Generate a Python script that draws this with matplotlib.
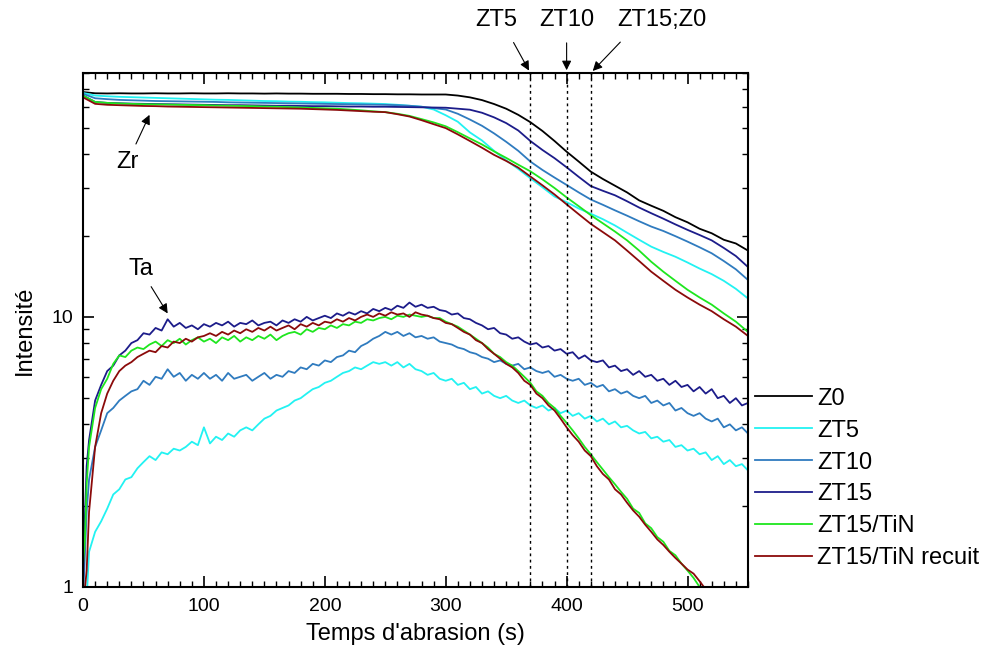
"""
Profils d'intensité Zr / Ta en fonction du temps d'abrasion
"""
import matplotlib
matplotlib.use('Agg')
import matplotlib.pyplot as plt
from matplotlib.ticker import MultipleLocator, LogLocator, NullFormatter, FuncFormatter

plt.rcParams['font.family'] = ['Liberation Sans', 'DejaVu Sans']

# temps (s)
t_zr = list(range(0, 551, 10))
t_ta = [0, 1.5, 3] + list(range(5, 551, 5))

# signal Zr (partie haute)
zr_z0 = [68.0, 67.3, 67.2, 67.3, 67.2, 67.2, 67.3, 67.2, 67.2, 67.3,
         67.2, 67.2, 67.3, 67.2, 67.2, 67.1, 67.2, 67.1, 67.1, 67.0,
         67.0, 67.0, 66.9, 66.9, 66.8, 66.8, 66.7, 66.7, 66.6, 66.6,
         66.6, 66.0, 65.0, 63.5, 61.4, 59.0, 56.0, 52.6, 48.8, 44.8,
         40.9, 37.6, 34.5, 32.4, 30.6, 28.9, 27.0, 25.8, 24.7, 23.4,
         22.4, 21.2, 20.4, 19.3, 18.7, 17.6]
zr_zt5 = [67.5, 66.0, 65.6, 65.3, 65.1, 64.9, 64.7, 64.5, 64.3, 64.1,
          63.9, 63.7, 63.6, 63.4, 63.2, 63.0, 62.9, 62.7, 62.6, 62.4,
          62.3, 62.1, 61.9, 61.8, 61.6, 61.4, 61.0, 60.5, 60.0, 58.6,
          55.8, 52.8, 48.2, 45.0, 41.2, 38.0, 35.3, 32.6, 30.2, 27.9,
          26.6, 25.2, 24.1, 23.0, 21.8, 20.5, 19.3, 18.2, 17.4, 16.7,
          15.9, 15.1, 14.4, 13.6, 12.7, 11.7]
zr_zt10 = [67.0, 64.5, 64.0, 63.6, 63.4, 63.2, 63.0, 62.9, 62.8, 62.7,
           62.6, 62.5, 62.3, 62.2, 62.1, 62.0, 61.9, 61.8, 61.7, 61.6,
           61.5, 61.4, 61.3, 61.2, 61.1, 61.0, 60.8, 60.5, 60.0, 59.3,
           58.6, 56.5, 53.8, 51.0, 47.8, 44.5, 41.2, 37.6, 35.0, 32.8,
           30.8, 28.9, 27.2, 26.0, 24.8, 23.7, 22.6, 21.6, 20.8, 19.9,
           19.0, 18.1, 17.2, 16.1, 15.0, 13.7]
zr_zt15 = [66.0, 62.5, 62.0, 61.8, 61.6, 61.5, 61.4, 61.3, 61.2, 61.1,
           61.0, 60.9, 60.8, 60.8, 60.7, 60.6, 60.5, 60.5, 60.4, 60.3,
           60.3, 60.2, 60.1, 60.1, 60.0, 60.0, 59.9, 59.8, 59.7, 59.6,
           59.5, 59.0, 58.5, 57.0, 54.8, 52.2, 49.0, 44.8, 41.5, 38.7,
           35.8, 33.0, 30.5, 29.3, 28.2, 26.8, 25.4, 24.2, 23.1, 22.0,
           21.0, 20.1, 19.2, 18.0, 16.8, 15.3]
zr_tin = [66.0, 62.5, 62.0, 61.7, 61.5, 61.3, 61.2, 61.1, 61.0, 60.9,
          60.8, 60.6, 60.5, 60.4, 60.3, 60.1, 60.0, 59.8, 59.6, 59.4,
          59.2, 59.0, 58.6, 58.2, 57.7, 57.3, 56.5, 55.5, 54.0, 52.5,
          50.8, 48.3, 45.8, 43.5, 41.0, 38.8, 36.6, 34.6, 32.3, 30.0,
          27.7, 25.7, 23.8, 22.2, 20.7, 19.2, 17.6, 16.0, 14.7, 13.6,
          12.6, 11.8, 11.1, 10.3, 9.6, 8.8]
zr_recuit = [65.0, 61.5, 61.0, 60.8, 60.6, 60.4, 60.3, 60.1, 60.0, 59.9,
             59.8, 59.7, 59.6, 59.5, 59.4, 59.3, 59.2, 59.1, 59.0, 58.8,
             58.6, 58.4, 58.1, 57.8, 57.5, 57.3, 56.3, 55.2, 53.5, 51.7,
             50.0, 47.4, 44.8, 42.3, 39.8, 37.8, 35.7, 33.1, 30.7, 28.4,
             26.1, 24.0, 22.1, 20.6, 19.2, 17.6, 16.1, 14.7, 13.6, 12.6,
             11.8, 11.1, 10.5, 9.8, 9.2, 8.5]

# signal Ta (partie basse)
ta_zt5 = [0.6, 0.7, 0.9,
          1.35, 1.6, 1.75, 1.95, 2.2, 2.3, 2.5, 2.55, 2.75, 2.9,
          3.05, 2.95, 3.15, 3.1, 3.25, 3.2, 3.3, 3.45, 3.35, 3.9,
          3.4, 3.6, 3.5, 3.7, 3.6, 3.8, 3.9, 3.8, 4.0, 4.2,
          4.3, 4.5, 4.6, 4.7, 4.9, 5.0, 5.2, 5.4, 5.5, 5.7,
          5.8, 6.0, 6.2, 6.3, 6.5, 6.4, 6.6, 6.8, 6.7, 6.8,
          6.6, 6.8, 6.5, 6.7, 6.4, 6.3, 6.1, 6.2, 5.9, 5.8,
          5.9, 5.6, 5.7, 5.4, 5.5, 5.2, 5.3, 5.1, 5.0, 5.1,
          4.9, 4.8, 4.9, 4.7, 4.6, 4.7, 4.5, 4.6, 4.4, 4.5,
          4.3, 4.4, 4.2, 4.3, 4.1, 4.2, 4.0, 4.1, 3.9, 3.95,
          3.8, 3.7, 3.75, 3.55, 3.6, 3.45, 3.5, 3.3, 3.35, 3.2,
          3.25, 3.1, 3.15, 2.95, 3.05, 2.85, 2.95, 2.8, 2.85, 2.7]
ta_zt10 = [0.9, 1.3, 1.9,
           2.5, 3.3, 3.8, 4.4, 4.6, 4.9, 5.1, 5.3, 5.4, 5.8,
           5.6, 6.0, 5.9, 6.4, 6.0, 6.2, 5.8, 6.1, 5.9, 6.2,
           5.9, 6.1, 5.8, 6.2, 5.9, 6.0, 6.1, 5.8, 6.0, 6.2,
           5.9, 6.1, 6.0, 6.3, 6.2, 6.5, 6.4, 6.7, 6.6, 6.9,
           6.8, 7.1, 7.2, 7.5, 7.4, 7.8, 8.0, 8.3, 8.5, 8.8,
           8.6, 8.8, 8.5, 8.7, 8.4, 8.5, 8.3, 8.4, 8.1, 8.0,
           7.9, 7.7, 7.6, 7.4, 7.3, 7.1, 7.0, 6.8, 6.9, 6.7,
           6.6, 6.7, 6.4, 6.5, 6.3, 6.2, 6.3, 6.0, 6.1, 5.9,
           5.8, 5.9, 5.6, 5.7, 5.5, 5.6, 5.3, 5.4, 5.2, 5.3,
           5.1, 5.0, 5.1, 4.8, 4.9, 4.7, 4.8, 4.5, 4.6, 4.4,
           4.3, 4.4, 4.2, 4.1, 4.2, 3.9, 4.0, 3.8, 3.9, 3.7]
ta_zt15 = [1.05, 1.8, 2.8,
           3.5, 4.9, 5.6, 6.3, 6.6, 7.2, 7.5, 8.0, 8.2, 8.7,
           8.6, 9.1, 8.9, 9.8, 9.2, 9.5, 9.1, 9.3, 9.0, 9.4,
           9.2, 9.5, 9.3, 9.6, 9.2, 9.5, 9.4, 9.7, 9.3, 9.5,
           9.6, 9.3, 9.7, 9.5, 9.8, 9.6, 10.0, 9.7, 9.9, 10.1,
           9.9, 10.3, 10.1, 10.4, 10.2, 10.5, 10.3, 10.7, 10.5, 10.8,
           10.6, 11.0, 10.8, 11.3, 10.9, 11.1, 10.8, 10.9, 10.6, 10.5,
           10.2, 10.3, 9.9, 9.8, 9.5, 9.3, 9.0, 9.1, 8.7, 8.6,
           8.3, 8.4, 8.1, 7.9, 8.0, 7.7, 7.8, 7.5, 7.6, 7.3,
           7.4, 7.0, 7.2, 6.9, 6.8, 6.9, 6.5, 6.6, 6.3, 6.4,
           6.1, 6.3, 6.0, 6.1, 5.8, 5.9, 5.6, 5.8, 5.5, 5.6,
           5.3, 5.5, 5.2, 5.4, 5.0, 5.1, 4.8, 5.0, 4.7, 4.8]
ta_tin = [1.2, 1.5, 2.4,
          3.3, 4.6, 5.4, 5.9, 6.7, 7.2, 7.1, 7.5, 7.7, 7.6,
          7.9, 8.1, 7.8, 8.2, 8.0, 8.3, 7.9, 8.2, 8.4, 8.1,
          8.3, 8.0, 8.4, 8.2, 8.5, 8.1, 8.4, 8.2, 8.5, 8.3,
          8.6, 8.2, 8.5, 8.7, 8.8, 8.6, 9.0, 8.8, 9.1, 9.0,
          9.3, 9.1, 9.4, 9.3, 9.6, 9.5, 9.8, 9.7, 9.9, 10.0,
          9.8, 10.1, 10.0, 10.2, 10.1, 10.0, 10.1, 9.9, 9.9, 9.6,
          9.4, 9.2, 8.9, 8.6, 8.3, 8.0, 7.7, 7.3, 7.1, 6.8,
          6.6, 6.3, 6.0, 5.7, 5.3, 5.1, 4.8, 4.6, 4.3, 4.05,
          3.8, 3.55, 3.3, 3.1, 2.9, 2.72, 2.55, 2.4, 2.25, 2.12,
          1.95, 1.88, 1.72, 1.65, 1.53, 1.47, 1.36, 1.31, 1.22, 1.15,
          1.08, 1.0, 0.96, 0.92]
ta_recuit = [0.9, 0.98, 1.15,
             1.9, 3.3, 4.4, 5.2, 5.8, 6.3, 6.6, 6.8, 7.1, 7.3,
             7.5, 7.4, 7.8, 7.7, 8.1, 8.0, 8.3, 8.1, 8.4, 8.5,
             8.7, 8.5, 8.8, 8.6, 8.9, 8.7, 9.0, 8.8, 9.1, 8.9,
             9.2, 8.9, 9.1, 9.3, 9.0, 9.4, 9.2, 9.5, 9.3, 9.6,
             9.5, 9.8, 9.6, 9.9, 9.7, 10.0, 10.2, 10.0, 10.3, 10.1,
             10.4, 10.2, 10.3, 10.0, 10.4, 10.2, 10.1, 9.9, 9.8, 9.5,
             9.4, 9.1, 8.8, 8.6, 8.2, 8.0, 7.6, 7.3, 7.0, 6.7,
             6.5, 6.2, 5.8, 5.6, 5.2, 5.0, 4.7, 4.5, 4.2, 3.9,
             3.65, 3.45, 3.2, 3.05, 2.8, 2.62, 2.5, 2.3, 2.2, 2.05,
             1.92, 1.82, 1.7, 1.6, 1.5, 1.43, 1.35, 1.28, 1.22, 1.16,
             1.12, 1.05, 0.98, 0.92]

labels = ['Z0', 'ZT5', 'ZT10', 'ZT15', 'ZT15/TiN', 'ZT15/TiN recuit']
colors = ['black', '#22f2f2', '#2f7bbf', '#1c1c8a', '#1ee61e', '#8b0a0a']
zr_series = [zr_z0, zr_zt5, zr_zt10, zr_zt15, zr_tin, zr_recuit]
ta_series = [None, ta_zt5, ta_zt10, ta_zt15, ta_tin, ta_recuit]

# repères verticaux
marks_t = [370, 400, 420]
marks_lbl = ['ZT5', 'ZT10', 'ZT15;Z0']

fig = plt.figure(figsize=(9.92, 6.5), dpi=100)
ax = fig.add_axes([0.0837, 0.097, 0.6703, 0.7907])

lines = []
for zr, ta, c, lab in zip(zr_series, ta_series, colors, labels):
    ln, = ax.plot(t_zr, zr, color=c, lw=1.3, label=lab)
    lines.append(ln)
    if ta is not None:
        ax.plot(t_ta[:len(ta)], ta, color=c, lw=1.3)

for t in marks_t:
    ax.axvline(t, color='k', ls=(0, (2, 2.5)), lw=1.0)

ax.set_yscale('log')
ax.set_xlim(0, 550)
ax.set_ylim(1, 80)
ax.xaxis.set_major_locator(MultipleLocator(100))
ax.xaxis.set_minor_locator(MultipleLocator(10))
ax.yaxis.set_major_locator(LogLocator(base=10))
ax.yaxis.set_minor_locator(LogLocator(base=10, subs=range(2, 10)))
ax.yaxis.set_major_formatter(FuncFormatter(lambda v, p: f'{v:g}'))
ax.yaxis.set_minor_formatter(NullFormatter())
ax.tick_params(which='both', direction='in', top=True, right=True, labelsize=14)
ax.tick_params(which='major', length=8, width=1.2)
ax.tick_params(which='minor', length=4, width=1.0)
ax.tick_params(axis='x', which='major', pad=8)
ax.tick_params(axis='y', which='major', pad=7)
for s in ax.spines.values():
    s.set_linewidth(1.5)

ax.set_xlabel("Temps d'abrasion (s)", fontsize=17, labelpad=6)
ax.set_ylabel('Intensité', fontsize=17, labelpad=11)

# flèches en haut
arrow_start = [355, 400, 446]
text_x = [342, 400, 479]
for tx, ts, tm, lb in zip(text_x, arrow_start, marks_t, marks_lbl):
    ax.annotate('', xy=(tm, 1.0), xytext=(ts, 1.064),
                xycoords=('data', 'axes fraction'), textcoords=('data', 'axes fraction'),
                arrowprops=dict(arrowstyle='-|>', color='k', lw=0.8, mutation_scale=14),
                annotation_clip=False)
    ax.text(tx, 1.103, lb, transform=ax.get_xaxis_transform(), ha='center', va='center',
            fontsize=17)

# étiquettes Zr et Ta
ax.annotate('Zr', xy=(55, 56), xytext=(37, 37.6), fontsize=17, ha='center', va='center',
            arrowprops=dict(arrowstyle='-|>', color='k', lw=0.8, mutation_scale=14,
                            shrinkA=3, shrinkB=0))
ax.annotate('Ta', xy=(70, 10.3), xytext=(47.5, 15.0), fontsize=17, ha='center', va='center',
            arrowprops=dict(arrowstyle='-|>', color='k', lw=0.8, mutation_scale=14,
                            shrinkA=3, shrinkB=0))

fig.legend(handles=lines, loc='upper left', bbox_to_anchor=(0.761, 0.4035),
           frameon=False, fontsize=17, handlelength=2.4, handletextpad=0.25,
           labelspacing=0.42, borderaxespad=0, borderpad=0)

fig.savefig('out.png', dpi=100)
